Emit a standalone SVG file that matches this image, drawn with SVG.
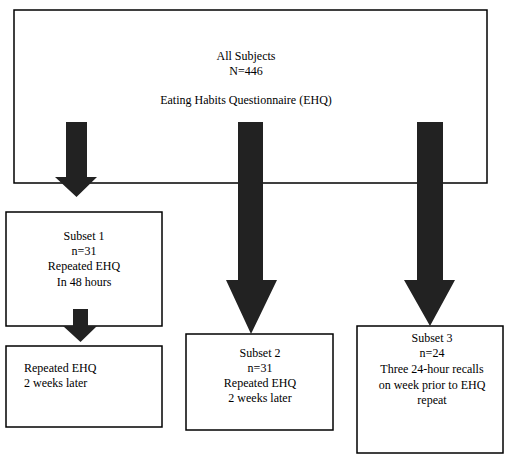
<svg xmlns="http://www.w3.org/2000/svg" width="509" height="461" viewBox="0 0 509 461">
<style>
.box{fill:#fff;stroke:#000;stroke-width:1.5}
.arr{fill:#222;stroke:none}
text{font-family:"Liberation Serif","Times New Roman",serif;font-size:12px;fill:#000}
.c{text-anchor:middle}
</style>
<rect width="509" height="461" fill="#fff"/>
<g id="all-subjects">
<rect class="box" x="14" y="10" width="473" height="173"/>
<text class="c" x="246" y="60">All Subjects</text>
<text class="c" x="246" y="75">N=446</text>
<text class="c" x="246" y="104">Eating Habits Questionnaire (EHQ)</text>
</g>
<g id="subset1">
<rect class="box" x="6" y="212" width="156" height="114"/>
<text class="c" x="84" y="240">Subset 1</text>
<text class="c" x="84" y="255">n=31</text>
<text class="c" x="84" y="270">Repeated EHQ</text>
<text class="c" x="84" y="286">In 48 hours</text>
</g>
<g id="repeated">
<rect class="box" x="6" y="346" width="156" height="81"/>
<text x="24" y="372">Repeated EHQ</text>
<text x="24" y="387">2 weeks later</text>
</g>
<g id="subset2">
<rect class="box" x="186" y="334" width="147" height="96"/>
<text class="c" x="260" y="357">Subset 2</text>
<text class="c" x="260" y="372">n=31</text>
<text class="c" x="260" y="387">Repeated EHQ</text>
<text class="c" x="260" y="402">2 weeks later</text>
</g>
<g id="subset3">
<rect class="box" x="357" y="326" width="146" height="127"/>
<text class="c" x="432" y="342">Subset 3</text>
<text class="c" x="432" y="357">n=24</text>
<text class="c" x="432" y="373">Three 24-hour recalls</text>
<text class="c" x="432" y="389">on week prior to EHQ</text>
<text class="c" x="432" y="404">repeat</text>
</g>
<g id="connectors">
<polygon class="arr" points="66,122 87,122 87,177 97,177 76.5,197 55,177 66,177"/>
<polygon class="arr" points="238,122 263,122 263,280 277,280 251,334 226,280 238,280"/>
<polygon class="arr" points="417,122 443,122 443,280 455,280 430,326 404,280 417,280"/>
<polygon class="arr" points="73,309 88,309 88,326 97,326 80.5,342 63,326 73,326"/>
</g>
</svg>
